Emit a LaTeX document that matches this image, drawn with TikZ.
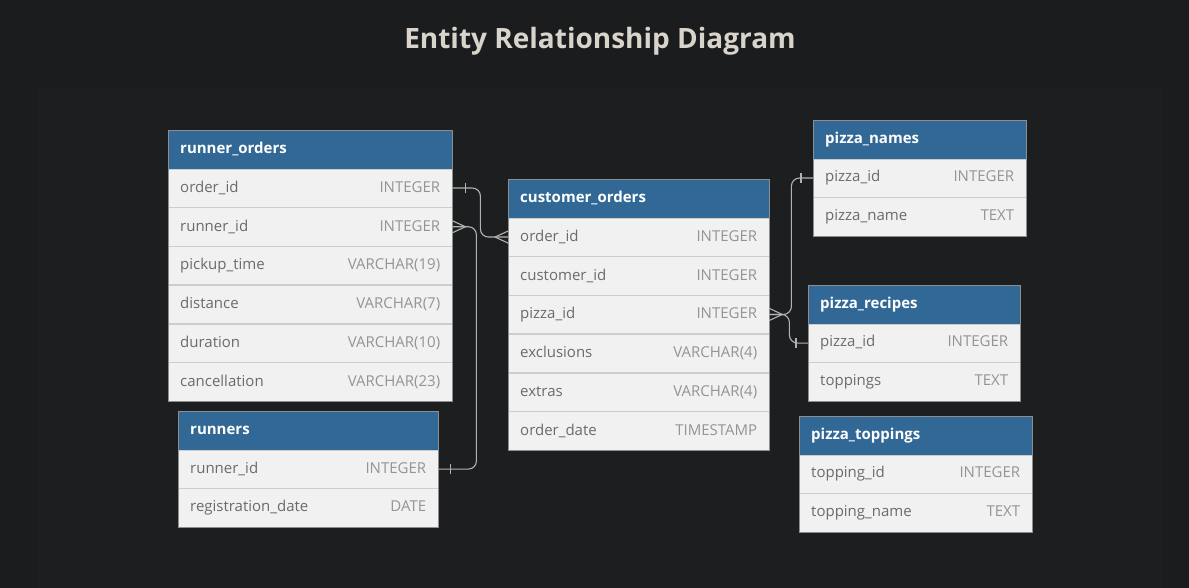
\documentclass[tikz,border=0pt]{standalone}
\usepackage{fontspec}
\setmainfont{Open Sans}
\usetikzlibrary{positioning}

\definecolor{bgdark}{HTML}{1B1C1E}
\definecolor{panel}{HTML}{1D1E20}
\definecolor{headblue}{HTML}{316896}
\definecolor{rowfill}{HTML}{F1F1F1}
\definecolor{rowline}{HTML}{CDCDCD}
\definecolor{tborder}{HTML}{8E8E8E}
\definecolor{fieldtxt}{HTML}{6B6B6B}
\definecolor{typetxt}{HTML}{949494}
\definecolor{linkc}{HTML}{B3B3B3}
\definecolor{titletxt}{HTML}{D8D3CB}

\begin{document}
\begin{tikzpicture}[x=1pt,y=-1pt,
    thead/.style={draw=headblue, fill=headblue, text=white, anchor=north west,
      text width=#1, inner xsep=12pt, inner ysep=0pt, minimum height=38.3pt,
      align=left, font=\fontsize{15}{18}\selectfont\bfseries},
    row/.style={draw=rowline, fill=rowfill, text width=#1, inner xsep=12pt,
      inner ysep=0pt, minimum height=38.3pt, align=left,
      font=\fontsize{15}{18}\selectfont},
    edge/.style={draw=tborder, line width=0.8pt},
    link/.style={draw=linkc, line width=1.1pt, rounded corners=8pt},
    tick/.style={draw=linkc, line width=1.1pt}]

% background and panel
\useasboundingbox (0,0) rectangle (1189,588);
\fill[bgdark] (0,0) rectangle (1189,588);
\fill[panel] (38,89) rectangle (1162,588);

% title
\node[font=\fontsize{28}{32}\selectfont\bfseries, text=titletxt] (title) at (600,41) {Entity Relationship Diagram};

% runner_orders
\node[thead=260pt] (ro-0) at (168,130) {runner\_orders};
\foreach \fn/\ft [count=\i] in {order\_id/INTEGER, runner\_id/INTEGER, pickup\_time/VARCHAR(19),
    distance/VARCHAR(7), duration/VARCHAR(10), cancellation/VARCHAR(23)}{
  \pgfmathtruncatemacro\j{\i-1}
  \node[row=260pt, below=0pt of ro-\j] (ro-\i) {\color{fieldtxt}\fn\hfill\color{typetxt}\ft};
}
\draw[edge] (ro-0.north west) rectangle (ro-6.south east);

% runners
\node[thead=236pt] (rn-0) at (178,411) {runners};
\foreach \fn/\ft [count=\i] in {runner\_id/INTEGER, registration\_date/DATE}{
  \pgfmathtruncatemacro\j{\i-1}
  \node[row=236pt, below=0pt of rn-\j] (rn-\i) {\color{fieldtxt}\fn\hfill\color{typetxt}\ft};
}
\draw[edge] (rn-0.north west) rectangle (rn-2.south east);

% customer_orders
\node[thead=237pt] (co-0) at (508,179) {customer\_orders};
\foreach \fn/\ft [count=\i] in {order\_id/INTEGER, customer\_id/INTEGER, pizza\_id/INTEGER,
    exclusions/VARCHAR(4), extras/VARCHAR(4), order\_date/TIMESTAMP}{
  \pgfmathtruncatemacro\j{\i-1}
  \node[row=237pt, below=0pt of co-\j] (co-\i) {\color{fieldtxt}\fn\hfill\color{typetxt}\ft};
}
\draw[edge] (co-0.north west) rectangle (co-6.south east);

% pizza_names
\node[thead=189pt] (pn-0) at (813,120) {pizza\_names};
\foreach \fn/\ft [count=\i] in {pizza\_id/INTEGER, pizza\_name/TEXT}{
  \pgfmathtruncatemacro\j{\i-1}
  \node[row=189pt, below=0pt of pn-\j] (pn-\i) {\color{fieldtxt}\fn\hfill\color{typetxt}\ft};
}
\draw[edge] (pn-0.north west) rectangle (pn-2.south east);

% pizza_recipes
\node[thead=188pt] (pr-0) at (808,285) {pizza\_recipes};
\foreach \fn/\ft [count=\i] in {pizza\_id/INTEGER, toppings/TEXT}{
  \pgfmathtruncatemacro\j{\i-1}
  \node[row=188pt, below=0pt of pr-\j] (pr-\i) {\color{fieldtxt}\fn\hfill\color{typetxt}\ft};
}
\draw[edge] (pr-0.north west) rectangle (pr-2.south east);

% pizza_toppings
\node[thead=209pt] (pt-0) at (799,416) {pizza\_toppings};
\foreach \fn/\ft [count=\i] in {topping\_id/INTEGER, topping\_name/TEXT}{
  \pgfmathtruncatemacro\j{\i-1}
  \node[row=209pt, below=0pt of pt-\j] (pt-\i) {\color{fieldtxt}\fn\hfill\color{typetxt}\ft};
}
\draw[edge] (pt-0.north west) rectangle (pt-2.south east);

% runner_orders.order_id -- customer_orders.order_id
\draw[link] (ro-1.east) -- ++(28,0) |- (co-1.west);
\draw[tick] (ro-1.east) ++(13,-5) -- ++(0,10);
\draw[tick] (co-1.west) ++(-13,0) -- ++(13,-6) ++(-13,6) -- ++(13,6);

% runners.runner_id -- runner_orders.runner_id
\draw[link] (rn-1.east) -- ++(38,0) |- (ro-2.east);
\draw[tick] (rn-1.east) ++(12,-5) -- ++(0,10);
\draw[tick] (ro-2.east) ++(13,0) -- ++(-13,-6) ++(13,6) -- ++(-13,6);

% customer_orders.pizza_id -- pizza_names / pizza_recipes
\draw[link] (co-3.east) -- ++(22,0) |- (pn-1.west);
\draw[link] (co-3.east) -- ++(20,0) |- (pr-1.west);
\draw[tick] (co-3.east) ++(13,0) -- ++(-13,-6) ++(13,6) -- ++(-13,6);
\draw[tick] (pn-1.west) ++(-12,-5) -- ++(0,10);
\draw[tick] (pr-1.west) ++(-12,-5) -- ++(0,10);

\end{tikzpicture}
\end{document}
